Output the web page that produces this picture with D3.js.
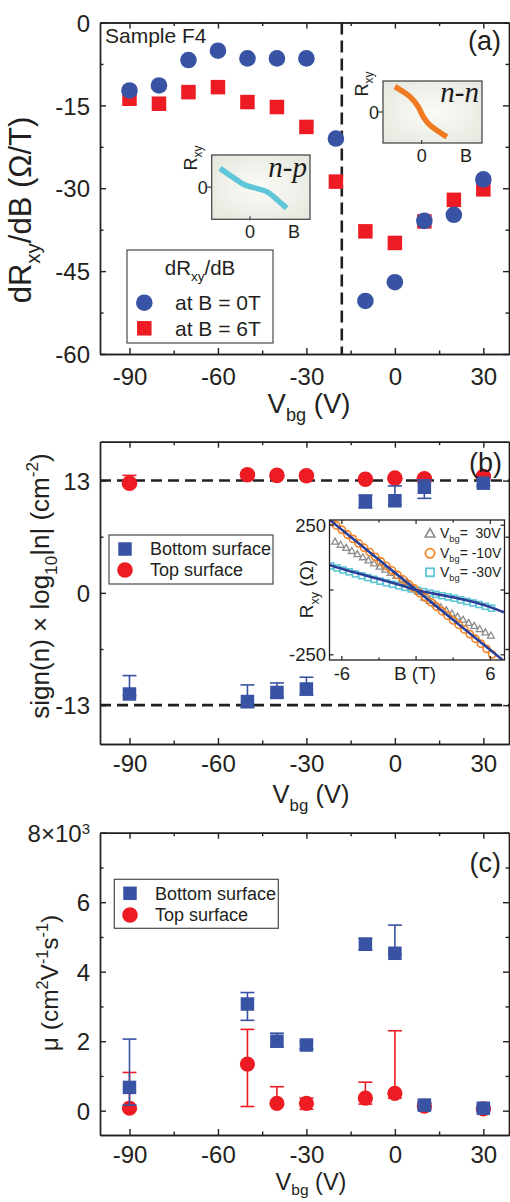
<!DOCTYPE html>
<html><head><meta charset="utf-8">
<script src="https://cdn.jsdelivr.net/npm/d3@7"></script>
<style>
body{margin:0;background:#fff;}
svg{display:block;font-family:"Liberation Sans",Arial,Helvetica,sans-serif;}
</style></head><body>
<svg id="c" width="510" height="1202"></svg>
<script>
// ---------------- DATA ----------------
// Panel (a)
const vbgA = [-90,-80,-70,-60,-50,-40,-30,-20,-10,0,10,20,30];
const dRdB_0T = [-12.3,-11.4,-6.8,-5.1,-6.5,-6.5,-6.5,-21.0,-50.4,-47.0,-35.9,-34.8,-28.4];
const dRdB_6T = [-13.8,-14.7,-12.6,-11.7,-14.4,-15.3,-18.9,-28.8,-37.8,-39.9,-36.0,-32.1,-30.2];
const boundaryVbg = -18;
const xTicksMajor = [-90,-60,-30,0,30];
const xTicksMinor = [-75,-45,-15,15];
const yTicksA = [0,-15,-30,-45,-60];
const yTicksAMinor = [-7.5,-22.5,-37.5,-52.5];
// schematic insets of (a)
const nnCurveB = [-0.69,-0.30,-0.09,0.04,0.21,0.65];
const nnCurveR = [0.82,0.49,0.17,-0.15,-0.42,-0.80];
const npCurveB = [-0.78,-0.44,-0.13,0.17,0.44,0.70,0.96];
const npCurveR = [0.59,0.30,0.07,-0.04,-0.14,-0.38,-0.66];

// Panel (b)
const vbgB = [-90,-50,-40,-30,-10,0,10,30];
const lognBottom   = [-11.71,-12.58,-11.53,-11.13,10.55,10.66,12.23,12.70];
const lognBottomLo = [-11.90,-13.28,-12.10,-11.83,9.85,10.24,10.94,12.40];
const lognBottomHi = [-9.58,-10.66,-10.43,-9.77,11.33,12.38,13.08,13.00];
const lognTop   = [12.70,13.67,13.60,13.55,13.16,13.28,13.20,13.47];
const lognTopLo = [12.40,13.50,13.45,13.40,13.00,13.10,13.05,13.30];
const lognTopHi = [13.60,13.85,13.75,13.70,13.32,13.45,13.35,13.65];
const refLevels = [13,-13];
const yTicksB = [-13,0,13];
const yTicksBMinor = [-6.5,6.5];
// inset of (b): Rxy vs B
const B30 = [-6.55,-6.1,-5.65,-5.2,-4.75,-4.3,-3.85,-3.4,-2.95,-2.5,-2.05,-1.6,-1.15,-0.7,-0.25,0.2,0.65,1.1,1.55,2.0,2.45,2.9,3.35,3.8,4.25,4.7,5.15,5.6,6.05];
const R30 = [186,174,162,150,138,126,114,102,90,78,66,54,42,30,10,-8,-30,-42,-55,-67,-79,-91,-103,-115,-127,-139,-151,-164,-176];
const Bm10 = [-6.9,-6.45,-6.0,-5.55,-5.1,-4.65,-4.2,-3.75,-3.3,-2.85,-2.4,-1.95,-1.5,-1.05,-0.6,-0.15,0.3,0.75,1.2,1.65,2.1,2.55,3.0,3.45,3.9,4.35,4.8,5.25,5.7,6.15];
const Rm10 = [266,249,232,214,197,180,163,146,128,110,93,76,58,41,23,6,-12,-29,-47,-64,-82,-99,-117,-134,-152,-170,-188,-207,-227,-248];
const Bm30 = [-6.9,-6.4,-5.9,-5.4,-4.9,-4.4,-3.9,-3.4,-2.9,-2.4,-1.9,-1.4,-0.9,-0.4,0.1,0.6,1.1,1.6,2.1,2.6,3.1,3.6,4.1,4.6,5.1,5.6,6.1];
const Rm30 = [93,85,77,70,62,55,48,41,34,28,22,16,10,4,-1,-6,-12,-17,-22,-27,-32,-38,-44,-50,-56,-63,-70];
const fitM10B = [-7.0,7.0];
const fitM10R = [271,-270];
const fitM30B = [-7,-6,-5,-4,-3,-2,-1,0,1,2,3,4,5,6,7.1];
const fitM30R = [96,82,68,55,42,29,15,0,-10,-19,-28,-39,-51,-66,-86];

// Panel (c)
const vbgC = [-90,-50,-40,-30,-10,0,10,30];
const muBottom   = [670,3070,2000,1890,4790,4530,160,70];
const muBottomLo = [160,2600,1840,1780,4630,4500,40,20];
const muBottomHi = [2060,3400,2230,1990,4960,5340,230,120];
const muTop   = [70,1340,210,210,360,500,130,50];
const muTopLo = [20,120,150,40,190,360,50,10];
const muTopHi = [1100,2340,690,360,820,2300,210,90];
const yTicksC = [0,2000,4000,6000,8000];
const yTicksCMinor = [1000,3000,5000,7000];

// ---------------- STYLE ----------------
const C = {blue:"#3953a4", red:"#ed1c24", ink:"#231f20", orange:"#f58220", cyan:"#5ec6d6", gray:"#8c8c8c", fit:"#2c3f98"};
const svg = d3.select("#c");
const defs = svg.append("defs");
const grad = defs.append("radialGradient").attr("id","insetBg").attr("cx","50%").attr("cy","50%").attr("r","70%");
grad.append("stop").attr("offset","0%").attr("stop-color","#fbfbf6");
grad.append("stop").attr("offset","100%").attr("stop-color","#e4e7de");

function rich(sel, parts, size, subK){
  let shift = 0;
  const sk = subK || 0.3;
  for (const p of parts){
    const off = p.sub ? size*sk : p.sup ? -size*0.42 : 0;
    sel.append("tspan").attr("dy",(off-shift).toFixed(2))
      .attr("font-size",(p.sub||p.sup)? size*0.66 : size).text(p.t);
    shift = off;
  }
  return sel;
}

function frame(g, x, y, o){
  const [x0,x1] = x.range(), [y0,y1] = y.range();
  const add = (axis, tr) => {
    const a = g.append("g").attr("transform",tr).call(axis)
      .attr("font-size",null).attr("font-family",null);
    a.selectAll("path,line").attr("stroke",C.ink).attr("stroke-width",1.4);
    return a;
  };
  const b = add(d3.axisBottom(x).tickValues(o.xMajor).tickSize(-6).tickSizeOuter(0).tickFormat(d=>String(d)), `translate(0,${y0})`);
  b.selectAll("text").attr("y",o.xOff).attr("dy",0).attr("font-size",24).attr("fill",C.ink);
  add(d3.axisBottom(x).tickValues(o.xMinor).tickSize(-3.5).tickSizeOuter(0).tickFormat(""), `translate(0,${y0})`);
  add(d3.axisTop(x).tickValues(o.xMajor).tickSize(-6).tickSizeOuter(0).tickFormat(""), `translate(0,${y1})`);
  add(d3.axisTop(x).tickValues(o.xMinor).tickSize(-3.5).tickSizeOuter(0).tickFormat(""), `translate(0,${y1})`);
  const l = add(d3.axisLeft(y).tickValues(o.yMajor).tickSize(-6).tickSizeOuter(0).tickFormat(o.yFmt||(d=>String(d))), `translate(${x0},0)`);
  l.selectAll("text").attr("x",-10).attr("dy","0.36em").attr("font-size",24).attr("fill",C.ink);
  add(d3.axisLeft(y).tickValues(o.yMinor).tickSize(-3.5).tickSizeOuter(0).tickFormat(""), `translate(${x0},0)`);
  add(d3.axisRight(y).tickValues(o.yMajor).tickSize(-6).tickSizeOuter(0).tickFormat(""), `translate(${x1},0)`);
  add(d3.axisRight(y).tickValues(o.yMinor).tickSize(-3.5).tickSizeOuter(0).tickFormat(""), `translate(${x1},0)`);
  return l;
}
function circles(g, xs, ys, x, y, r, col){
  g.selectAll(null).data(xs.map((v,i)=>[v,ys[i]])).join("circle")
    .attr("cx",d=>x(d[0])).attr("cy",d=>y(d[1])).attr("r",r).attr("fill",col);
}
function squares(g, xs, ys, x, y, s, col){
  g.selectAll(null).data(xs.map((v,i)=>[v,ys[i]])).join("rect")
    .attr("x",d=>x(d[0])-s/2).attr("y",d=>y(d[1])-s/2).attr("width",s).attr("height",s).attr("fill",col);
}
function errbars(g, xs, lo, hi, x, y, col){
  const d = xs.map((v,i)=>[v,lo[i],hi[i]]);
  const e = g.append("g").attr("stroke",col).attr("stroke-width",1.6);
  e.selectAll(null).data(d).join("line").attr("x1",d=>x(d[0])).attr("x2",d=>x(d[0])).attr("y1",d=>y(d[1])).attr("y2",d=>y(d[2]));
  e.selectAll(null).data(d).join("line").attr("x1",d=>x(d[0])-7).attr("x2",d=>x(d[0])+7).attr("y1",d=>y(d[1])).attr("y2",d=>y(d[1]));
  e.selectAll(null).data(d).join("line").attr("x1",d=>x(d[0])-7).attr("x2",d=>x(d[0])+7).attr("y1",d=>y(d[2])).attr("y2",d=>y(d[2]));
}
function rotLabel(g, x, y, parts, size){
  const t = g.append("text").attr("transform",`translate(${x},${y}) rotate(-90)`).attr("text-anchor","middle").attr("fill",C.ink);
  rich(t, parts, size);
}
function hLabel(g, x, y, parts, size, anchor, subK){
  const t = g.append("text").attr("x",x).attr("y",y).attr("text-anchor",anchor||"middle").attr("fill",C.ink);
  rich(t, parts, size, subK);
  return t;
}
const vbgLabel = [{t:"V"},{t:"bg",sub:true},{t:" (V)"}];

// ---------------- PANEL (a) ----------------
const gA = svg.append("g");
const xA = d3.scaleLinear().domain([-100,38.7]).range([100,509]);
const yA = d3.scaleLinear().domain([-60,0]).range([354,22.5]);
gA.append("line").attr("x1",xA(boundaryVbg)).attr("x2",xA(boundaryVbg)).attr("y1",yA(0)).attr("y2",yA(-60))
  .attr("stroke",C.ink).attr("stroke-width",2.6).attr("stroke-dasharray","12,6");
squares(gA, vbgA, dRdB_6T, xA, yA, 14.5, C.red);
circles(gA, vbgA, dRdB_0T, xA, yA, 8.3, C.blue);
frame(gA, xA, yA, {xMajor:xTicksMajor, xMinor:xTicksMinor, yMajor:yTicksA, yMinor:yTicksAMinor, xOff:31});
gA.append("text").attr("x",105).attr("y",43).attr("font-size",21).attr("fill",C.ink).text("Sample F4");
gA.append("text").attr("x",501).attr("y",50).attr("font-size",27).attr("text-anchor","end").attr("fill",C.ink).text("(a)");
rotLabel(gA, 31, 210, [{t:"dR"},{t:"xy",sub:true},{t:"/dB (Ω/T)"}], 31);
hLabel(gA, 309, 413, vbgLabel, 27.5);

// schematic insets
function schematic(g, box, xd, curveB, curveR, col, tag){
  const x = d3.scaleLinear().domain(xd).range([box[0],box[2]]);
  const y = d3.scaleLinear().domain([-1,1]).range([box[3],box[1]]);
  g.append("rect").attr("x",box[0]).attr("y",box[1]).attr("width",box[2]-box[0]).attr("height",box[3]-box[1])
    .attr("fill","url(#insetBg)").attr("stroke","#4a4a4a").attr("stroke-width",1.3);
  g.append("line").attr("x1",box[0]-4.5).attr("x2",box[0]).attr("y1",y(0)).attr("y2",y(0)).attr("stroke","#4a4a4a").attr("stroke-width",1.3);
  g.append("line").attr("x1",x(0)).attr("x2",x(0)).attr("y1",box[3]+1).attr("y2",box[3]-3).attr("stroke","#4a4a4a").attr("stroke-width",1.3);
  g.append("path").datum(curveB.map((v,i)=>[v,curveR[i]]))
    .attr("d",d3.line().x(d=>x(d[0])).y(d=>y(d[1])).curve(d3.curveCatmullRom))
    .attr("fill","none").attr("stroke",col).attr("stroke-width",5.5);
  g.append("text").attr("x",box[0]-4).attr("y",y(0)+6.5).attr("text-anchor","end").attr("font-size",18).attr("fill",C.ink).text("0");
  g.append("text").attr("x",x(0)).attr("y",box[3]+19).attr("text-anchor","middle").attr("font-size",18).attr("fill",C.ink).text("0");
  g.append("text").attr("x",box[2]-16).attr("y",box[3]+19).attr("text-anchor","middle").attr("font-size",18).attr("fill",C.ink).text("B");
  rotLabel(g, box[0]-15, box[1]+3, [{t:"R"},{t:"xy",sub:true}], 18);
  g.append("text").attr("x",box[2]-3).attr("y",tag.y).attr("text-anchor","end")
    .attr("font-family",'"Liberation Serif","Times New Roman",serif').attr("font-style","italic")
    .attr("font-size",29).attr("fill","#1a1a1a").text(tag.t);
}
schematic(gA, [383,81,482,143], [-1,1.56], nnCurveB, nnCurveR, "#f07a22", {t:"n-n", y:101.7});
schematic(gA, [211.7,155,310,219.3], [-1,1.57], npCurveB, npCurveR, "#5ec6d6", {t:"n-p", y:177});

// legend (a)
const lgA = gA.append("g");
lgA.append("rect").attr("x",127).attr("y",250).attr("width",146).attr("height",93).attr("fill","#fff").attr("stroke","#4a4a4a").attr("stroke-width",1.2);
hLabel(lgA, 200, 275, [{t:"dR"},{t:"xy",sub:true},{t:"/dB"}], 20.5);
lgA.append("circle").attr("cx",144.3).attr("cy",302.7).attr("r",8.3).attr("fill",C.blue);
lgA.append("rect").attr("x",144.3-7.25).attr("y",328.3-7.25).attr("width",14.5).attr("height",14.5).attr("fill",C.red);
lgA.append("text").attr("x",175).attr("y",310).attr("font-size",21).attr("fill",C.ink).text("at B = 0T");
lgA.append("text").attr("x",175).attr("y",336).attr("font-size",21).attr("fill",C.ink).text("at B = 6T");

// ---------------- PANEL (b) ----------------
const gB = svg.append("g");
const xB = d3.scaleLinear().domain([-100,38.7]).range([100,509]);
const yB = d3.scaleLinear().domain([-17.5,17.5]).range([744,441.7]);
gB.selectAll(null).data(refLevels).join("line").attr("x1",100).attr("x2",509).attr("y1",d=>yB(d)).attr("y2",d=>yB(d))
  .attr("stroke",C.ink).attr("stroke-width",2.6).attr("stroke-dasharray","11,6");
errbars(gB, vbgB, lognTopLo, lognTopHi, xB, yB, C.red);
circles(gB, vbgB, lognTop, xB, yB, 7.8, C.red);
errbars(gB, vbgB, lognBottomLo, lognBottomHi, xB, yB, C.blue);
squares(gB, vbgB, lognBottom, xB, yB, 13.5, C.blue);
frame(gB, xB, yB, {xMajor:xTicksMajor, xMinor:xTicksMinor, yMajor:yTicksB, yMinor:yTicksBMinor, xOff:27.7});
gB.append("text").attr("x",502).attr("y",472).attr("font-size",27).attr("text-anchor","end").attr("fill",C.ink).text("(b)");
rotLabel(gB, 49, 586, [{t:"sign(n) × log"},{t:"10",sub:true},{t:"|n| (cm"},{t:"-2",sup:true},{t:")"}], 26);
hLabel(gB, 311, 803, vbgLabel, 25.5);
// legend (b)
const lgB = gB.append("g");
lgB.append("rect").attr("x",109).attr("y",535).attr("width",164).attr("height",49).attr("fill","#fff").attr("stroke","#4a4a4a").attr("stroke-width",1.2);
lgB.append("rect").attr("x",125-6.75).attr("y",549-6.75).attr("width",13.5).attr("height",13.5).attr("fill",C.blue);
lgB.append("circle").attr("cx",125).attr("cy",570).attr("r",7.8).attr("fill",C.red);
lgB.append("text").attr("x",150).attr("y",555).attr("font-size",18).attr("fill",C.ink).text("Bottom surface");
lgB.append("text").attr("x",150).attr("y",575.5).attr("font-size",18).attr("fill",C.ink).text("Top surface");

// inset (b)
const gI = gB.append("g");
const xI = d3.scaleLinear().domain([-7,7.15]).range([329.5,504.5]);
const yI = d3.scaleLinear().domain([-270,270]).range([660,520]);
gI.append("rect").attr("x",329.5).attr("y",520).attr("width",175).attr("height",140).attr("fill","#fff");
defs.append("clipPath").attr("id","clipI").append("rect").attr("x",329.5).attr("y",520).attr("width",175).attr("height",140);
const gIc = gI.append("g").attr("clip-path","url(#clipI)");
gIc.selectAll(null).data(Bm30.map((v,i)=>[v,Rm30[i]])).join("rect")
  .attr("x",d=>xI(d[0])-3).attr("y",d=>yI(d[1])-3).attr("width",6).attr("height",6)
  .attr("fill","none").attr("stroke",C.cyan).attr("stroke-width",1.6);
gIc.selectAll(null).data(B30.map((v,i)=>[v,R30[i]])).join("path")
  .attr("transform",d=>`translate(${xI(d[0])},${yI(d[1])})`)
  .attr("d","M0,-3.6L3.4,2.4L-3.4,2.4Z").attr("fill","none").attr("stroke",C.gray).attr("stroke-width",1.3);
gIc.selectAll(null).data(Bm10.map((v,i)=>[v,Rm10[i]])).join("circle")
  .attr("cx",d=>xI(d[0])).attr("cy",d=>yI(d[1])).attr("r",3.6)
  .attr("fill","none").attr("stroke",C.orange).attr("stroke-width",1.6);
const lineI = d3.line().x(d=>xI(d[0])).y(d=>yI(d[1])).curve(d3.curveMonotoneX);
gIc.append("path").datum(fitM10B.map((v,i)=>[v,fitM10R[i]])).attr("d",lineI).attr("fill","none").attr("stroke",C.fit).attr("stroke-width",2.6);
gIc.append("path").datum(fitM30B.map((v,i)=>[v,fitM30R[i]])).attr("d",lineI).attr("fill","none").attr("stroke",C.fit).attr("stroke-width",2.6);
gI.append("rect").attr("x",329.5).attr("y",520).attr("width",175).attr("height",140).attr("fill","none").attr("stroke",C.ink).attr("stroke-width",1.3);
// inset ticks
const tickI = gI.append("g").attr("stroke",C.ink).attr("stroke-width",1.2);
[-250,0,250].forEach(v=>{
  tickI.append("line").attr("x1",329.5).attr("x2",333.5).attr("y1",yI(v)).attr("y2",yI(v));
  tickI.append("line").attr("x1",504.5).attr("x2",500.5).attr("y1",yI(v)).attr("y2",yI(v));
});
[-6,-3,0,3,6].forEach(v=>{
  const L = (v%6===0)?4:2.5;
  tickI.append("line").attr("x1",xI(v)).attr("x2",xI(v)).attr("y1",660).attr("y2",660-L);
  tickI.append("line").attr("x1",xI(v)).attr("x2",xI(v)).attr("y1",520).attr("y2",520+L);
});
[250,-250].forEach(v=>gI.append("text").attr("x",326).attr("y",yI(v)+6.5).attr("text-anchor","end").attr("font-size",18.5).attr("fill",C.ink).text(String(v)));
[-6,6].forEach(v=>gI.append("text").attr("x",xI(v)).attr("y",680).attr("text-anchor","middle").attr("font-size",18.5).attr("fill",C.ink).text(String(v)));
gI.append("text").attr("x",415).attr("y",680).attr("text-anchor","middle").attr("font-size",19).attr("fill",C.ink).text("B (T)");
rotLabel(gI, 313, 589, [{t:"R"},{t:"xy",sub:true},{t:" (Ω)"}], 19);
// inset legend
const lgI = gI.append("g");
lgI.append("path").attr("transform","translate(430,533.5)").attr("d","M0,-5L4.8,3.5L-4.8,3.5Z").attr("fill","none").attr("stroke",C.gray).attr("stroke-width",1.6);
lgI.append("circle").attr("cx",430).attr("cy",553.3).attr("r",4.6).attr("fill","none").attr("stroke",C.orange).attr("stroke-width",1.8);
lgI.append("rect").attr("x",426).attr("y",568.3).attr("width",8).attr("height",8).attr("fill","none").attr("stroke",C.cyan).attr("stroke-width",1.8);
[["\u00a030V",538],["-10V",558],["-30V",577]].forEach(([v,yy])=>{
  const t = hLabel(lgI, 440, yy, [{t:"V"},{t:"bg",sub:true},{t:"= "+v}], 14, "start");
  t.style("white-space","pre");
});

// ---------------- PANEL (c) ----------------
const gC = svg.append("g");
const xC = d3.scaleLinear().domain([-100,38.7]).range([100,509]);
const yC = d3.scaleLinear().domain([-700,8000]).range([1135,832.7]);
errbars(gC, vbgC, muTopLo, muTopHi, xC, yC, C.red);
circles(gC, vbgC, muTop, xC, yC, 7.6, C.red);
errbars(gC, vbgC, muBottomLo, muBottomHi, xC, yC, C.blue);
squares(gC, vbgC, muBottom, xC, yC, 13.5, C.blue);
const lC = frame(gC, xC, yC, {xMajor:xTicksMajor, xMinor:xTicksMinor, yMajor:yTicksC, yMinor:yTicksCMinor, xOff:27.5,
  yFmt:d=> d===8000 ? "8×10" : String(d/1000)});
lC.selectAll("text").filter(d=>d===8000).append("tspan").attr("dy","-0.55em").attr("font-size",15).text("3");
gC.append("text").attr("x",501).attr("y",872).attr("font-size",27).attr("text-anchor","end").attr("fill",C.ink).text("(c)");
rotLabel(gC, 58, 983, [{t:"μ (cm"},{t:"2",sup:true},{t:"V"},{t:"-1",sup:true},{t:"s"},{t:"-1",sup:true},{t:")"}], 24.5);
hLabel(gC, 311, 1189.5, vbgLabel, 23.5, "middle", 0.25);
const lgC = gC.append("g");
lgC.append("rect").attr("x",114.3).attr("y",879.3).attr("width",164).attr("height",49).attr("fill","#fff").attr("stroke","#4a4a4a").attr("stroke-width",1.2);
lgC.append("rect").attr("x",130-6.75).attr("y",893.3-6.75).attr("width",13.5).attr("height",13.5).attr("fill",C.blue);
lgC.append("circle").attr("cx",130).attr("cy",915).attr("r",7.8).attr("fill",C.red);
lgC.append("text").attr("x",155).attr("y",899.5).attr("font-size",18).attr("fill",C.ink).text("Bottom surface");
lgC.append("text").attr("x",155).attr("y",921).attr("font-size",18).attr("fill",C.ink).text("Top surface");
</script>
</body></html>
